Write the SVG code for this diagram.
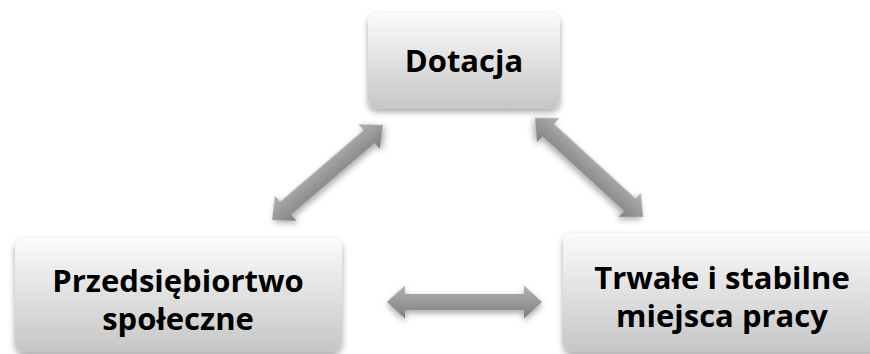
<svg xmlns="http://www.w3.org/2000/svg" width="870" height="354" viewBox="0 0 870 354">
<defs>
<linearGradient id="boxg" x1="0" y1="0" x2="0" y2="1">
<stop offset="0" stop-color="#fbfbfb"/>
<stop offset="1" stop-color="#c6c6c6"/>
</linearGradient>
<linearGradient id="arrg" x1="0" y1="0" x2="0" y2="1">
<stop offset="0" stop-color="#b3b3b3"/>
<stop offset="1" stop-color="#7e7e7e"/>
</linearGradient>
<filter id="sh" x="-20%" y="-20%" width="140%" height="150%">
<feDropShadow dx="0" dy="3" stdDeviation="3" flood-color="#000" flood-opacity="0.35"/>
</filter>
</defs>
<style>
.box{fill:url(#boxg);filter:url(#sh)}
.arr{fill:url(#arrg);filter:url(#sh)}
.t{font-family:"Open Sans","Noto Sans",sans-serif;font-weight:bold;font-size:31px;fill:#000;text-anchor:middle}
</style>
<rect width="870" height="354" fill="#fff"/>
<g id="connectors">
<path class="arr" transform="translate(387,302)" d="M0,0 L18,-16.5 L18,-8 L137,-8 L137,-16.5 L155,0 L137,16.5 L137,8 L18,8 L18,16.5 Z"/>
<path class="arr" transform="translate(272,220) rotate(-40.6)" d="M0,0 L18,-16.5 L18,-8.5 L128,-8.5 L128,-16.5 L146,0 L128,16.5 L128,8.5 L18,8.5 L18,16.5 Z"/>
<path class="arr" transform="translate(535,118) rotate(42.5)" d="M0,0 L18,-16.5 L18,-8.5 L128.5,-8.5 L128.5,-16.5 L146.5,0 L128.5,16.5 L128.5,8.5 L18,8.5 L18,16.5 Z"/>
</g>
<g id="node-dotacja">
<rect class="box" x="368" y="13" width="192" height="96" rx="9"/>
<text class="t" x="464" y="72">Dotacja</text>
</g>
<g id="node-przedsiebiorstwo">
<rect class="box" x="15" y="238" width="327" height="114" rx="9"/>
<text class="t" x="178" y="292">Przedsiębiortwo</text>
<text class="t" x="178" y="330">społeczne</text>
</g>
<g id="node-miejsca">
<rect class="box" x="563" y="233" width="318" height="119" rx="9"/>
<text class="t" x="722" y="289">Trwałe i stabilne</text>
<text class="t" x="722" y="327">miejsca pracy</text>
</g>
</svg>
